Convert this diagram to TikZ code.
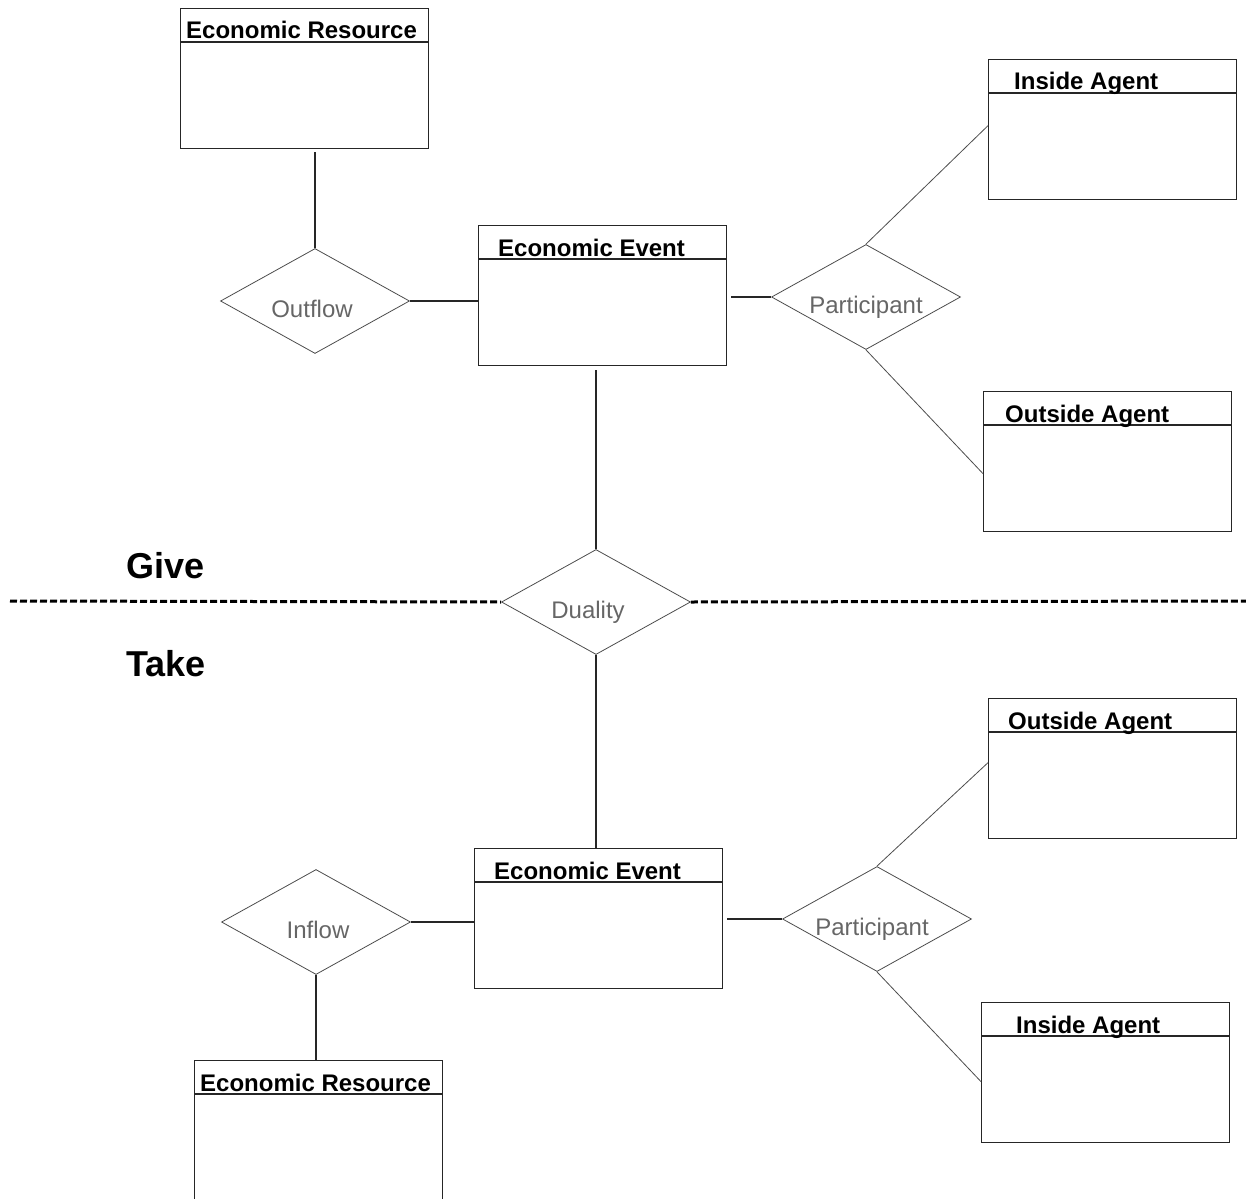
\documentclass[tikz,border=0pt]{standalone}
\usepackage{fontspec}
\setmainfont{Liberation Sans}
\usetikzlibrary{shapes.geometric}

\begin{document}
\begin{tikzpicture}[x=1pt,y=-1pt,
  entity/.style={draw=black!85, line width=1.3pt, rectangle, anchor=north west,
    minimum width=248pt, minimum height=140pt, inner sep=0pt},
  relation/.style={draw=black!70, line width=0.8pt, diamond,
    minimum width=189pt, minimum height=105pt, inner sep=0pt},
  link/.style={draw=black!85, line width=1.3pt},
  thinlink/.style={draw=black!70, line width=0.8pt},
  title/.style={font=\fontsize{24}{24}\selectfont\bfseries, inner sep=0pt, anchor=base west},
  reltext/.style={font=\fontsize{24}{24}\selectfont, text=black!60, inner sep=0pt, anchor=base},
  side/.style={font=\fontsize{36}{36}\selectfont\bfseries, inner sep=0pt, anchor=base west},
  divider/.style={draw=black, line width=3pt, dash pattern=on 7pt off 3pt}]

\useasboundingbox (0,0) rectangle (1246,1198);

% draw entity boxes
\node[entity] (res1) at (180,8) {};
\node[entity] (ev1) at (478,225) {};
\node[entity] (ins1) at (988,59) {};
\node[entity] (out1) at (983,391) {};
\node[entity] (ev2) at (474,848) {};
\node[entity] (res2) at (194,1060) {};
\node[entity] (out2) at (988,698) {};
\node[entity] (ins2) at (981,1002) {};

% draw header lines and titles
\foreach \b/\off/\txt in {res1/6/Economic Resource, ev1/20/Economic Event,
  ins1/26/Inside Agent, out1/22/Outside Agent, ev2/20/Economic Event,
  res2/6/Economic Resource, out2/20/Outside Agent, ins2/35/Inside Agent}{
  \draw[link] ([yshift=-34pt]\b.north west) -- ([yshift=-34pt]\b.north east);
  \node[title] (\b-title) at ([xshift=\off pt,yshift=-31pt]\b.north west) {\txt};
}

% draw relationships
\node[relation] (outflow) at (315,301) {};
\node[relation] (part1) at (866,297) {};
\node[relation] (duality) at (596,602) {};
\node[relation] (inflow) at (316,922) {};
\node[relation] (part2) at (877,919) {};

\node[reltext] (outflow-text) at ([xshift=-3pt,yshift=-16pt]outflow.center) {Outflow};
\node[reltext] (part1-text) at ([yshift=-16pt]part1.center) {Participant};
\node[reltext] (duality-text) at ([xshift=-8pt,yshift=-16pt]duality.center) {Duality};
\node[reltext] (inflow-text) at ([xshift=2pt,yshift=-16pt]inflow.center) {Inflow};
\node[reltext] (part2-text) at ([xshift=-5pt,yshift=-16pt]part2.center) {Participant};

% draw connectors
\draw[link, shorten >=3pt] (outflow.north) -- (outflow.north |- res1.south);
\draw[link] (outflow.east) -- (outflow.east -| ev1.west);
\draw[link, shorten >=4pt] (part1.west) -- (part1.west -| ev1.east);
\draw[thinlink] (part1.north) -- ([yshift=4pt]ins1.west);
\draw[thinlink] (part1.south) -- ([yshift=-12pt]out1.west);
\draw[link, shorten >=4pt] (duality.north) -- (duality.north |- ev1.south);
\draw[link] (duality.south) -- (duality.south |- ev2.north);
\draw[link] (inflow.east) -- (inflow.east -| ev2.west);
\draw[link] (inflow.south) -- (inflow.south |- res2.north);
\draw[link, shorten >=4pt] (part2.west) -- (part2.west -| ev2.east);
\draw[thinlink] (part2.north) -- ([yshift=6pt]out2.west);
\draw[thinlink] (part2.south) -- ([yshift=-9pt]ins2.west);

% draw give/take divider
\coordinate (lend) at (10,601);
\coordinate (rend) at (1246,601);
\draw[divider] (lend) -- (duality.west);
\draw[divider] (duality.east) -- (rend);
\node[side] (give) at (126,578) {Give};
\node[side] (take) at (126,676) {Take};

\end{tikzpicture}
\end{document}
